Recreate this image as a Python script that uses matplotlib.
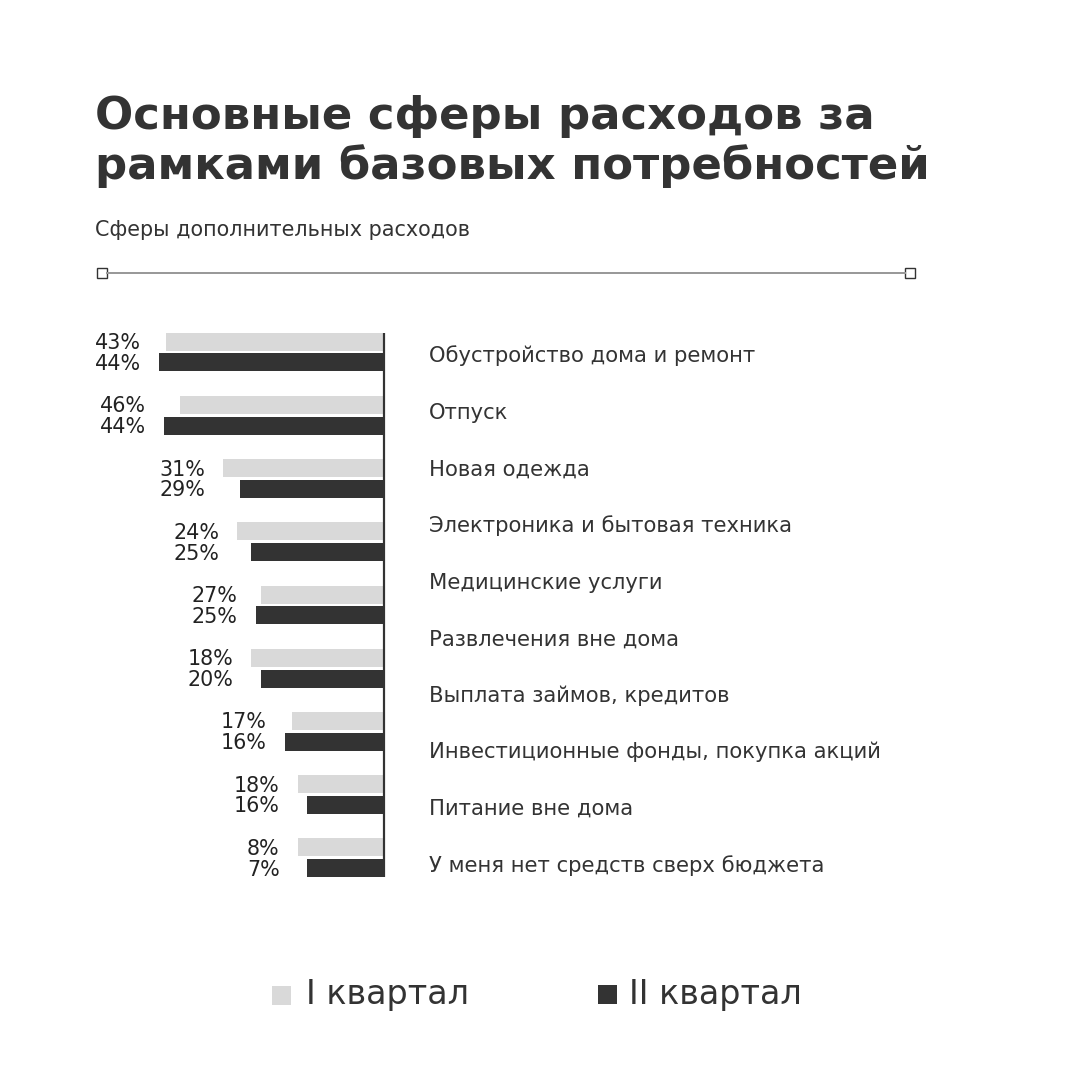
import matplotlib
matplotlib.use('Agg')
import matplotlib.pyplot as plt
from matplotlib.patches import Rectangle
from matplotlib.lines import Line2D
from matplotlib.transforms import IdentityTransform

# ---------------- data ----------------
categories = [
    'Обустройство дома и ремонт',
    'Отпуск',
    'Новая одежда',
    'Электроника и бытовая техника',
    'Медицинские услуги',
    'Развлечения вне дома',
    'Выплата займов, кредитов',
    'Инвестиционные фонды, покупка акций',
    'Питание вне дома',
    'У меня нет средств сверх бюджета',
]
series_names = ['I квартал', 'II квартал']
# values printed next to the bars
q1_labels = [43, 46, 31, 24, 27, 18, 17, 18, 8]
q2_labels = [44, 44, 29, 25, 25, 20, 16, 16, 7]
# bar lengths as drawn in the picture (same % scale)
q1_bars = [43.0, 40.2, 31.7, 28.9, 24.3, 26.2, 18.1, 17.0, 17.0]
q2_bars = [44.3, 43.4, 28.5, 26.3, 25.3, 24.3, 19.6, 15.2, 15.2]
title_lines = ['Основные сферы расходов за', 'рамками базовых потребностей']
subtitle = 'Сферы дополнительных расходов'

# ---------------- style ----------------
C_LIGHT = '#d9d9d9'
C_DARK = '#333333'
C_TEXT = '#333333'
FONT = 'DejaVu Sans'
CAP = 0.729  # cap height / em for DejaVu Sans

W = H = 1080
fig = plt.figure(figsize=(10.8, 10.8), dpi=100)
fig.patch.set_facecolor('white')
renderer = fig.canvas.get_renderer()
ID = IdentityTransform()


def px2pt(px):
    return px * 72.0 / 100.0


def width_of(t):
    return t.get_window_extent(renderer).width


def fit(t, target_w):
    w = width_of(t)
    t.set_fontsize(t.get_fontsize() * target_w / w)
    return t


# ---------------- bars axis ----------------
PX_PER_UNIT = 5.07
AXIS_X = 384
ROW0 = 352.1
ROW_STEP = 63.2
ax = fig.add_axes([0, 0, 1, 1])
ax.set_xlim(-AXIS_X / PX_PER_UNIT, (W - AXIS_X) / PX_PER_UNIT)
ax.set_ylim((H - ROW0) / ROW_STEP, -ROW0 / ROW_STEP)
ax.axis('off')

off = 10.4 / ROW_STEP
bh = 18.0 / ROW_STEP
ys = list(range(len(q1_bars)))
ax.barh([y - off for y in ys], [-v for v in q1_bars], height=bh, color=C_LIGHT, zorder=2)
ax.barh([y + off for y in ys], [-v for v in q2_bars], height=bh, color=C_DARK, zorder=2)
ax.plot([0, 0], [ys[0] - off - bh / 2, ys[-1] + off + bh / 2], color=C_DARK, lw=px2pt(2.2),
        solid_capstyle='butt', zorder=3)

# value labels: two-line block, left aligned inside, right aligned to bar start
lab_px = 20.7
for i in ys:
    left_end = ax.transData.transform((-max(q1_bars[i], q2_bars[i]), i))[0]
    block_right = left_end - 18
    ts = []
    for val, yy in ((q1_labels[i], i - off), (q2_labels[i], i + off)):
        cy = ax.transData.transform((0, yy))[1]
        t = fig.text(0, cy - CAP * lab_px / 2, f'{val}%', transform=ID, fontsize=px2pt(lab_px),
                     family=FONT, color='#222222', ha='left', va='baseline')
        ts.append(t)
    wmax = max(width_of(t) for t in ts)
    for t in ts:
        x, y = t.get_position()
        t.set_position((block_right - wmax, y))

# ---------------- category labels ----------------
cat_objs = []
for i, c in enumerate(categories):
    t = fig.text(429 / W, 0.5, c, fontsize=15, family=FONT, color=C_TEXT, ha='left', va='baseline')
    cat_objs.append(t)
longest = max(cat_objs, key=width_of)
fit(longest, 453)
cs = longest.get_fontsize()
cs_px = cs * 100 / 72
for i, t in enumerate(cat_objs):
    t.set_fontsize(cs)
    cy = 354.5 + 56.6 * i
    t.set_position((429 / W, 1 - (cy + CAP * cs_px / 2) / H))

# ---------------- title & subtitle ----------------
t1 = fig.text(95 / W, 1 - 129 / H, title_lines[0], fontsize=32, family=FONT, weight='bold',
              color=C_TEXT, ha='left', va='baseline')
t2 = fig.text(95 / W, 1 - 179 / H, title_lines[1], fontsize=32, family=FONT, weight='bold',
              color=C_TEXT, ha='left', va='baseline')
fit(t2, 842)
fit(t1, 778)
ts_ = (t1.get_fontsize() + t2.get_fontsize()) / 2
t1.set_fontsize(ts_)
t2.set_fontsize(ts_)

st = fig.text(95 / W, 0.5, subtitle, fontsize=14, family=FONT, color=C_TEXT, ha='left', va='baseline')
fit(st, 377)
st_px = st.get_fontsize() * 100 / 72
st.set_position((95 / W, 1 - (228.5 + CAP * st_px / 2) / H))

# ---------------- separator ----------------
fig.add_artist(Line2D([107 / W, 905 / W], [1 - 273 / H] * 2, color='#999999', lw=px2pt(2)))
for cx in (102, 910):
    fig.add_artist(Rectangle(((cx - 5) / W, 1 - (273 + 5) / H), 10 / W, 10 / H,
                             facecolor='white', edgecolor=C_DARK, lw=px2pt(1.4),
                             transform=fig.transFigure))

# ---------------- legend ----------------
fig.add_artist(Rectangle((272 / W, 1 - 1005 / H), 19 / W, 19 / H, facecolor=C_LIGHT,
                         edgecolor='none', transform=fig.transFigure))
fig.add_artist(Rectangle((598 / W, 1 - 1004 / H), 19 / W, 19 / H, facecolor=C_DARK,
                         edgecolor='none', transform=fig.transFigure))
l1 = fig.text(306 / W, 1 - 1004 / H, series_names[0], fontsize=24, family=FONT, color=C_TEXT,
              ha='left', va='baseline')
l2 = fig.text(629 / W, 1 - 1004 / H, series_names[1], fontsize=24, family=FONT, color=C_TEXT,
              ha='left', va='baseline')
fit(l2, 173)
l1.set_fontsize(l2.get_fontsize())

fig.savefig('out.png', dpi=100, facecolor='white')
